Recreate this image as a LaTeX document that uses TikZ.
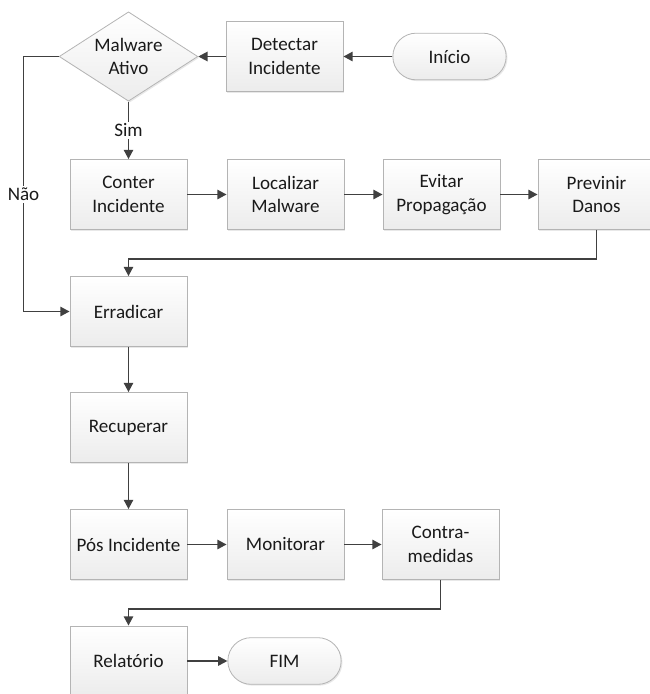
\documentclass[tikz,border=0pt]{standalone}
\usepackage{fontspec}
\setmainfont{Carlito}
\usetikzlibrary{arrows.meta,shapes.geometric,shapes.misc,shadows}

\definecolor{linegray}{HTML}{404040}
\definecolor{boxborder}{HTML}{B4B4B4}
\definecolor{boxbottom}{HTML}{ECECEC}
\definecolor{txtgray}{HTML}{1A1A1A}

\tikzset{
  boxbase/.style={draw=boxborder, line width=0.6pt, top color=white, bottom color=boxbottom,
    text=txtgray, align=center,
    drop shadow={fill=black!20, opacity=0.45, shadow xshift=1pt, shadow yshift=-1pt}},
  procbox/.style={boxbase, rectangle, minimum width=87.75pt, minimum height=52.5pt, inner sep=1pt},
  termbox/.style={boxbase, rounded rectangle, minimum width=87pt, minimum height=35pt, inner sep=1pt},
  decbox/.style={boxbase, diamond, aspect=1.56, minimum width=104pt, minimum height=67pt, inner sep=0pt},
  flowarrow/.style={draw=linegray, line width=1.4pt, -{Triangle[length=7pt,width=7pt]}},
  flowlabel/.style={fill=white, text=txtgray, inner sep=1.5pt}
}

\begin{document}
\begin{tikzpicture}[x=0.75pt, y=-0.75pt, font=\fontsize{14.3}{17.5}\selectfont]
\useasboundingbox (0,0) rectangle (650,694);

% Row 1
\node[decbox]  (malware)  at (128.5,56.5) {Malware\\Ativo};
\node[procbox] (detectar) at (284.5,56.5) {Detectar\\Incidente};
\node[termbox] (inicio)   at (449.5,56.5) {Início};

% Row 2
\node[procbox] (conter)    at (128.5,194.5) {Conter\\Incidente};
\node[procbox] (localizar) at (285.5,194.5) {Localizar\\Malware};
\node[procbox] (evitar)    at (441.5,194.5) {Evitar\\Propagação};
\node[procbox] (previnir)  at (596.5,194.5) {Previnir\\Danos};

% Column 1
\node[procbox] (erradicar) at (128.5,311.5) {Erradicar};
\node[procbox] (recuperar) at (128.5,427.5) {Recuperar};

% Row 5
\node[procbox] (pos)       at (128.5,544.5) {Pós Incidente};
\node[procbox] (monitorar) at (285.5,544.5) {Monitorar};
\node[procbox] (contra)    at (440.5,544.5) {Contra-\\medidas};

% Row 6
\node[procbox] (relatorio) at (128.5,661) {Relatório};
\node[termbox] (fim)       at (284.5,661) {FIM};

\coordinate (naocorner) at (23.5,56.5);

% Connectors
\draw[flowarrow] (inicio) -- (detectar);
\draw[flowarrow] (detectar) -- (malware);
\draw[flowarrow] (malware) -- node[flowlabel] {Sim} (conter);
\draw[flowarrow] (malware.west) -- (naocorner) |- node[flowlabel, pos=0.27] {Não} (erradicar.west);
\draw[flowarrow] (conter) -- (localizar);
\draw[flowarrow] (localizar) -- (evitar);
\draw[flowarrow] (evitar) -- (previnir);
\draw[flowarrow] (previnir.south) -- ++(0,29) -| (erradicar.north);
\draw[flowarrow] (erradicar) -- (recuperar);
\draw[flowarrow] (recuperar) -- (pos);
\draw[flowarrow] (pos) -- (monitorar);
\draw[flowarrow] (monitorar) -- (contra);
\draw[flowarrow] (contra.south) -- ++(0,29) -| (relatorio.north);
\draw[flowarrow] (relatorio) -- (fim);
\end{tikzpicture}
\end{document}
